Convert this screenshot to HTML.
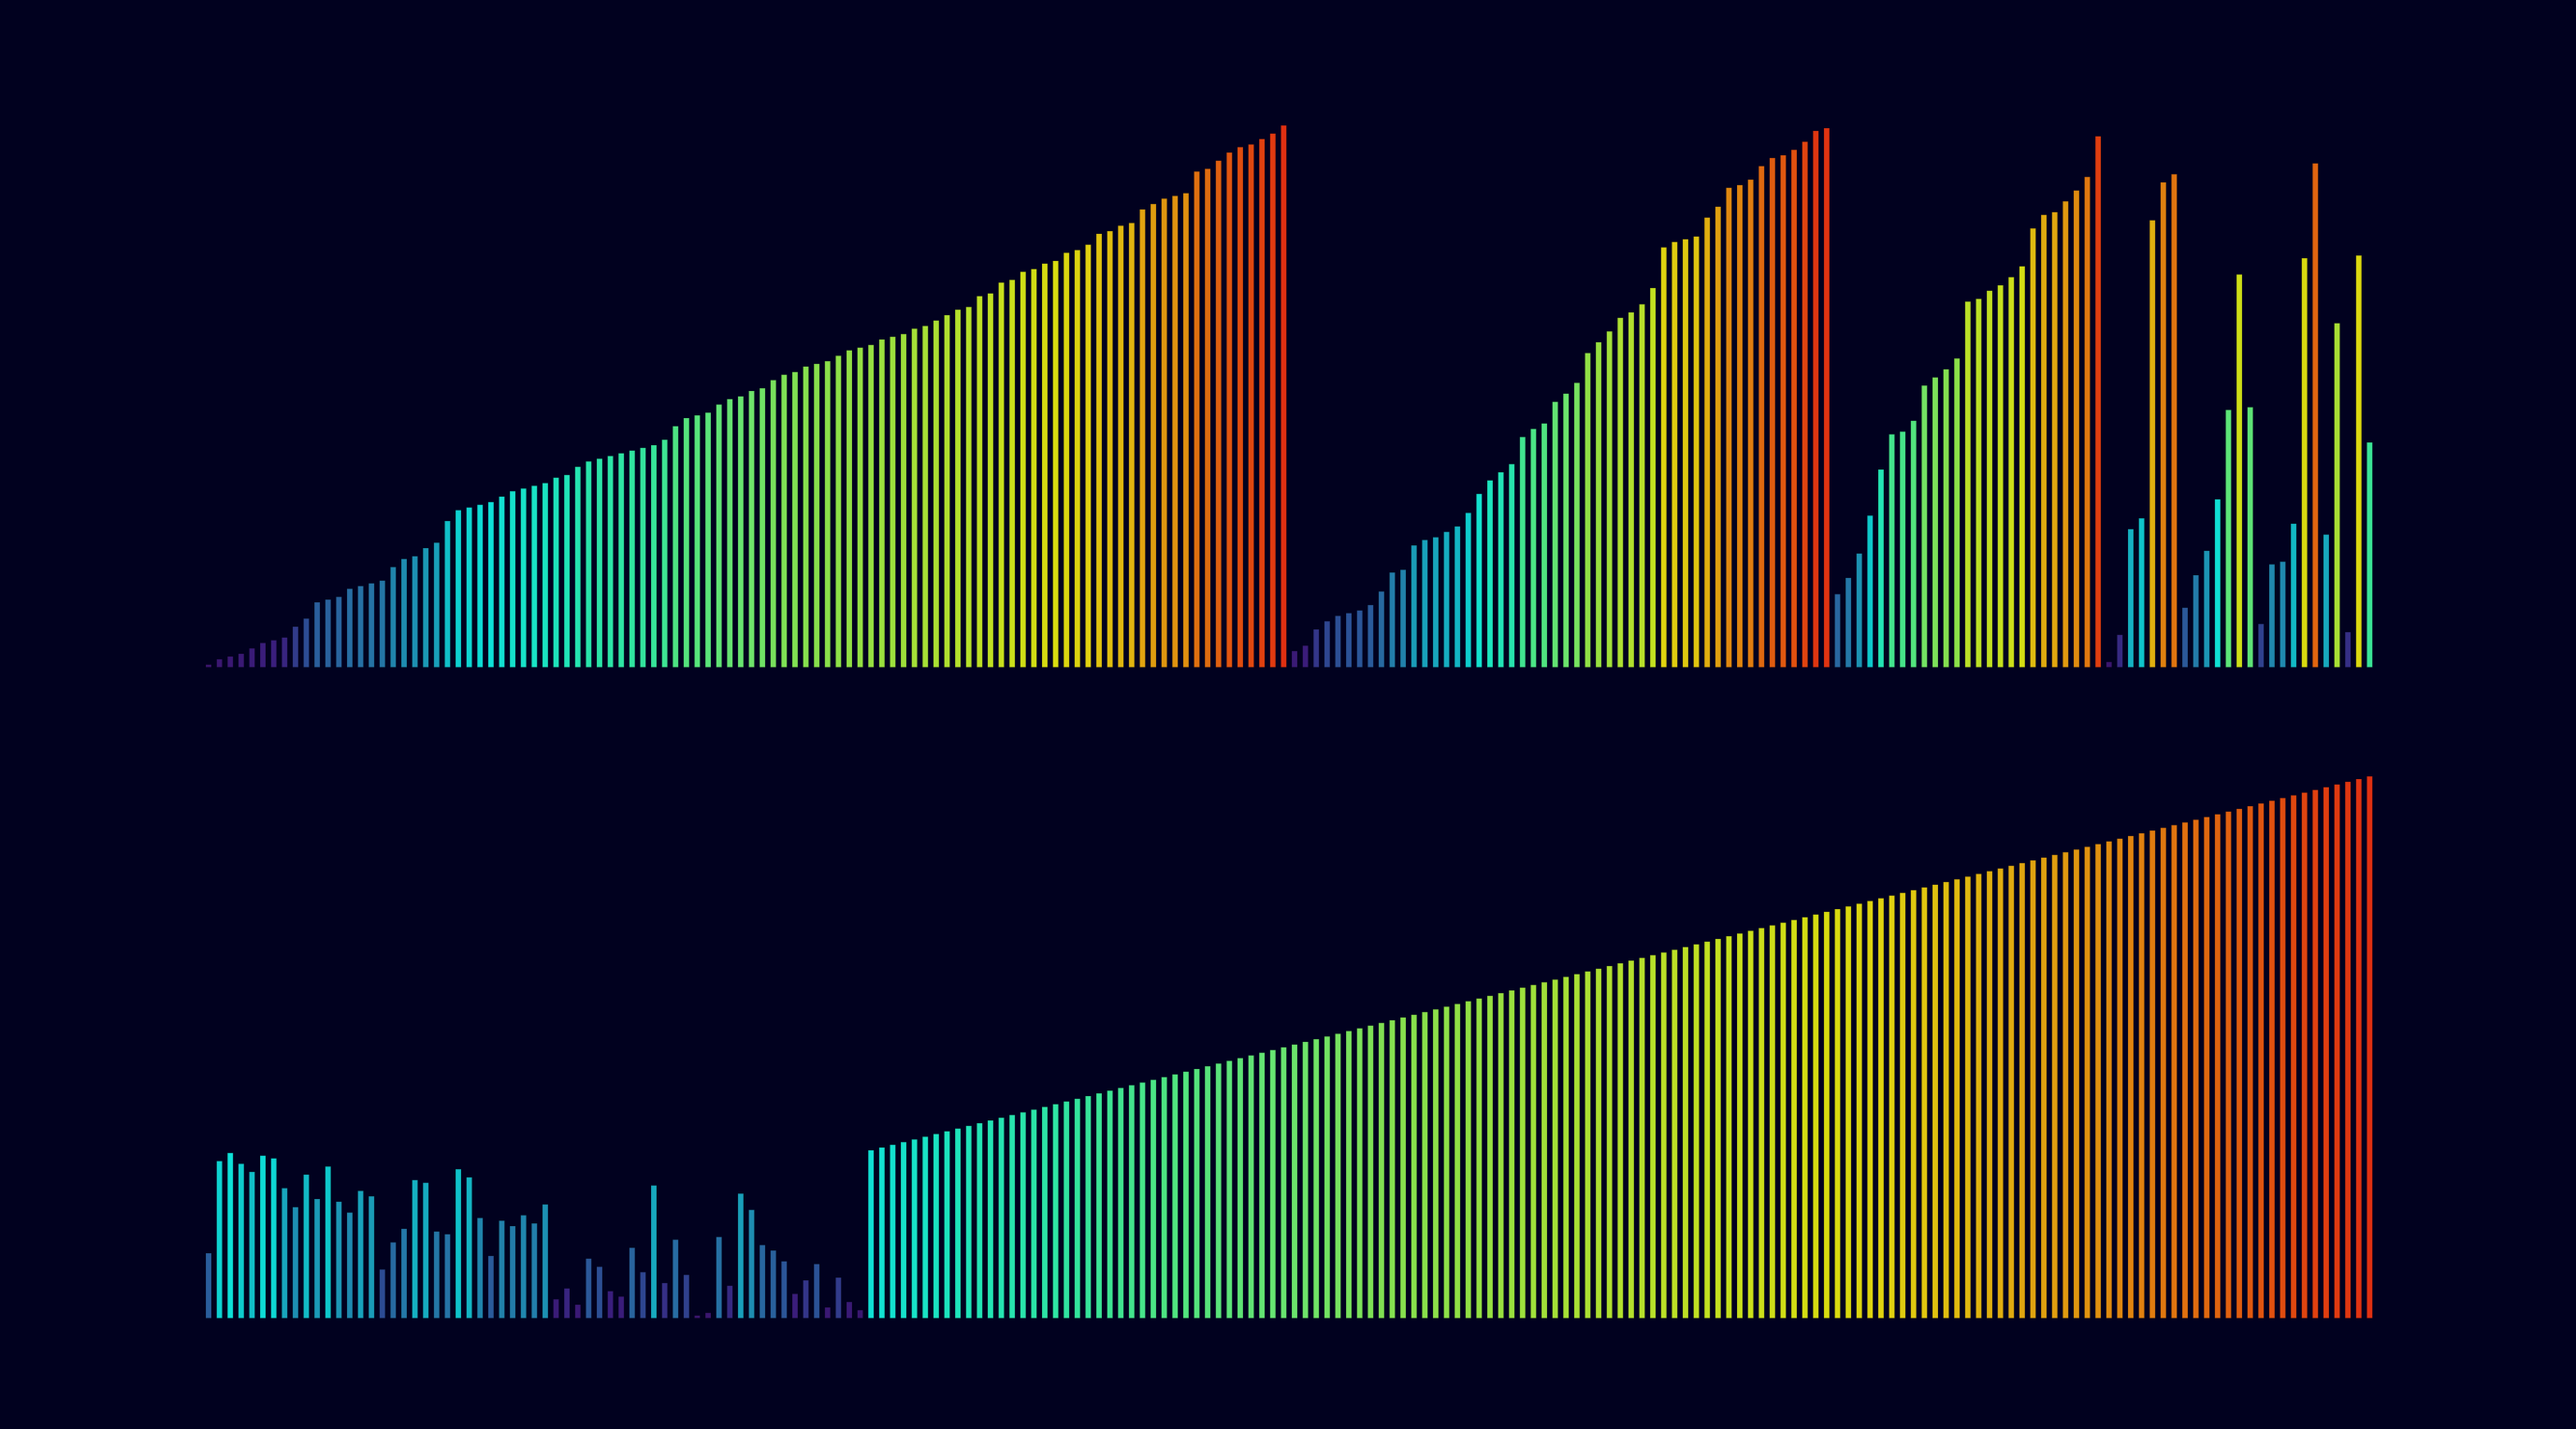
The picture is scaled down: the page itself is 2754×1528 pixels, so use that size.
<!DOCTYPE html>
<html><head><meta charset="utf-8"><title>Sorting bars</title>
<style>
html,body{margin:0;padding:0;background:#01011f;}
svg{display:block;}
</style></head>
<body>
<svg id="chart" width="2754" height="1528" viewBox="0 0 2754 1528" xmlns="http://www.w3.org/2000/svg">
<rect x="0" y="0" width="2754" height="1528" fill="#01011f"/>
<g id="top-panel"></g>
<g id="bottom-panel"></g>
</svg>
<script>
const topValues = [1,3,4,5,7,9,10,11,15,18,24,25,26,29,30,31,32,37,40,41,44,46,54,58,59,60,61,63,65,66,67,68,70,71,74,76,77,78,79,80,81,82,84,89,92,93,94,97,99,100,
102,103,106,108,109,111,112,113,115,117,118,119,121,122,123,125,126,128,130,132,133,137,138,142,143,146,147,149,150,153,154,156,160,161,163,164,169,171,173,174,175,183,184,187,190,192,193,195,197,200,
6,8,14,17,19,20,21,23,28,35,36,45,47,48,50,52,57,64,69,72,75,85,88,90,98,101,105,116,120,124,129,131,134,140,155,157,158,159,166,170,177,178,180,185,188,189,191,194,198,199,
27,33,42,56,73,86,87,91,104,107,110,114,135,136,139,141,144,148,162,167,168,172,176,181,196,
2,12,51,55,165,179,182,22,34,43,62,95,145,96,16,38,39,53,151,186,49,127,13,152,83];

const bottomValues = [24,58,61,57,54,60,59,48,41,53,44,56,43,39,47,45,18,28,33,51,50,32,31,55,52,37,23,36,34,38,35,42,7,11,5,22,19,10,8,26,17,49,13,29,16,1,2,30,12,46,40,27,25,21,9,14,20,4,15,6,3,
62,63,64,65,66,67,68,69,70,71,72,73,74,75,76,77,78,79,80,81,82,83,84,85,86,87,88,89,90,91,92,93,94,95,96,97,98,99,100,
101,102,103,104,105,106,107,108,109,110,111,112,113,114,115,116,117,118,119,120,121,122,123,124,125,126,127,128,129,130,
131,132,133,134,135,136,137,138,139,140,141,142,143,144,145,146,147,148,149,150,151,152,153,154,155,156,157,158,159,160,
161,162,163,164,165,166,167,168,169,170,171,172,173,174,175,176,177,178,179,180,181,182,183,184,185,186,187,188,189,190,
191,192,193,194,195,196,197,198,199,200];

const valueMax = 200;

// colormap stops (value fraction -> rgb)
const cmap = [
 [0.00,[58,20,108]],[0.05,[58,30,125]],[0.09,[44,76,148]],[0.12,[42,94,156]],[0.15,[38,112,164]],
 [0.20,[30,140,176]],[0.25,[22,172,192]],[0.28,[14,200,204]],[0.305,[14,224,216]],[0.35,[30,228,188]],
 [0.40,[48,228,160]],[0.45,[80,228,128]],[0.50,[104,228,112]],[0.55,[132,224,80]],[0.60,[152,224,64]],
 [0.65,[176,224,48]],[0.70,[196,224,32]],[0.75,[216,220,16]],[0.78,[224,208,16]],[0.825,[224,176,16]],
 [0.875,[224,144,16]],[0.925,[224,104,16]],[0.975,[224,64,16]],[1.00,[224,48,18]]
];
function colorFor(v){
  const t = Math.max(0, Math.min(1, v/valueMax));
  for(let i=1;i<cmap.length;i++){
    if(t<=cmap[i][0]){
      const a=cmap[i-1], b=cmap[i], f=(t-a[0])/(b[0]-a[0]);
      const c=a[1].map((x,k)=>Math.round(x+(b[1][k]-x)*f));
      return 'rgb('+c.join(',')+')';
    }
  }
  return 'rgb(224,48,18)';
}

const NS='http://www.w3.org/2000/svg';
const x0 = 223, pitch = 11.61, barW = 6;
const pxPerUnit = 2.897;
function xScale(i){ return x0 + i*pitch; }
function hScale(v){ return v*pxPerUnit; }

function drawPanel(gid, values, baseline, prefix){
  const g=document.getElementById(gid);
  values.forEach((v,i)=>{
    const r=document.createElementNS(NS,'rect');
    const h=hScale(v);
    r.setAttribute('x',(xScale(i)-barW/2).toFixed(2));
    r.setAttribute('y',(baseline-h).toFixed(2));
    r.setAttribute('width',barW);
    r.setAttribute('height',h.toFixed(2));
    r.setAttribute('fill',colorFor(v));
    r.setAttribute('stroke','rgba(0,0,0,0.25)');
    r.setAttribute('stroke-width','0.8');
    
    
    g.appendChild(r);
  });
}
drawPanel('top-panel', topValues, 713.5, 'top');
drawPanel('bottom-panel', bottomValues, 1409.5, 'bottom');
</script>
</body></html>
